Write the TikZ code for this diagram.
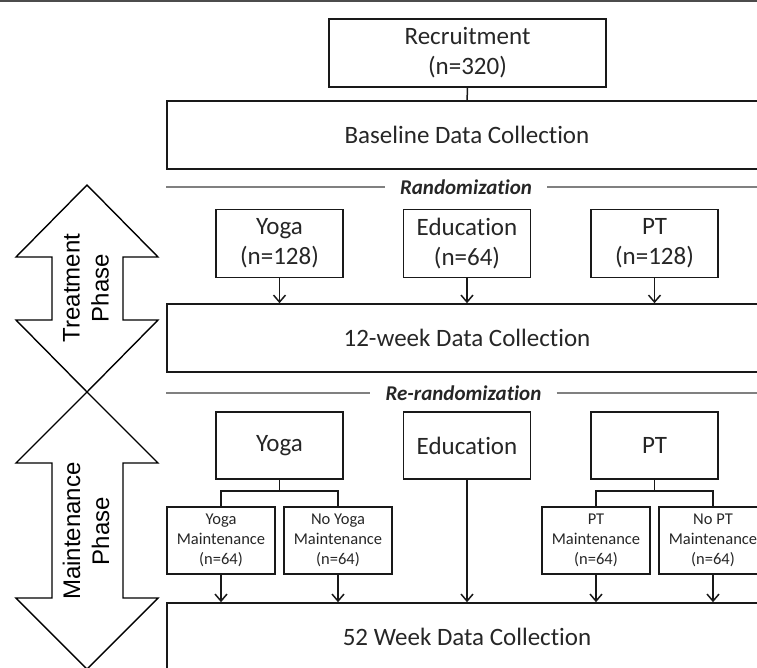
\documentclass[tikz,border=0pt]{standalone}
\usepackage{fontspec}
\setmainfont{Carlito}[Ligatures=NoCommon]
\newfontfamily\phasefont{Liberation Sans}
\usetikzlibrary{arrows.meta}

\begin{document}
\begin{tikzpicture}[x=1pt,y=-1pt,>={Straight Barb[length=7pt,width=12pt]},
        box/.style={draw=black!90,line width=1.6pt,align=center,inner sep=0pt,text=black!85,font=\fontsize{25}{30}\selectfont},
        wide/.style={box,minimum width=600pt,minimum height=68pt},
        arm/.style={box,minimum width=127pt,minimum height=68pt},
        sub/.style={box,minimum width=108pt,minimum height=67pt,font=\fontsize{16.5}{20}\selectfont},
        link/.style={line width=1.5pt,draw=black!90},
        rule/.style={draw=black!50,line width=1.6pt},
        randtext/.style={inner xsep=15pt,text=black!85,font=\fontsize{21}{25}\selectfont\bfseries\itshape},
        phase/.style={draw,line width=1.4pt},
        phasetext/.style={rotate=90,align=center,font=\phasefont\fontsize{24}{29}\selectfont}]
        \useasboundingbox (0,0) rectangle (757,667);
        \draw[line width=1.5pt,black!70] (0,1) -- (757,1);
        % phase arrows
        \draw[phase] (87,185) -- (158,257) -- (123,257) -- (123,320) -- (158,320) -- (87,392)
                -- (16,320) -- (52,320) -- (52,257) -- (16,257) -- cycle;
        \draw[phase] (87,392) -- (158,463) -- (123,463) -- (123,598) -- (158,598) -- (87,669)
                -- (16,598) -- (52,598) -- (52,463) -- (16,463) -- cycle;
        \node[phasetext](treat) at (86,288) {Treatment\\Phase};
        \node[phasetext](maint) at (86,531) {Maintenance\\Phase};
        % boxes
        \node[box,minimum width=277pt,minimum height=68pt](recruit) at (467.5,53) {Recruitment\\(n=320)};
        \node[wide](base) at (467,135) {Baseline Data Collection};
        \node[randtext](rand) at (466,187) {Randomization};
        \node[arm](yoga) at (279.5,243.5) {Yoga\\(n=128)};
        \node[arm](edu) at (467,243.5) {Education\\(n=64)};
        \node[arm](pt) at (654.5,243.5) {PT\\(n=128)};
        \node[wide](wk12) at (467,338) {12-week Data Collection};
        \node[randtext](rerand) at (463.5,393) {Re-randomization};
        \node[arm,minimum height=67pt](yoga2) at (279.5,445.5) {Yoga};
        \node[arm,minimum height=67pt](edu2) at (467,445.5) {Education};
        \node[arm,minimum height=67pt](pt2) at (654.5,445.5) {PT};
        \node[sub](yogam) at (221,540.5) {Yoga\\Maintenance\\(n=64)};
        \node[sub](noyogam) at (338,540.5) {No Yoga\\Maintenance\\(n=64)};
        \node[sub](ptm) at (596,540.5) {PT\\Maintenance\\(n=64)};
        \node[sub](noptm) at (713,540.5) {No PT\\Maintenance\\(n=64)};
        \node[wide](wk52) at (467,637) {52 Week Data Collection};
        % separators
        \draw[rule] (base.west |- rand) -- (rand.west);
        \draw[rule] (rand.east) -- (rand.east -| base.east);
        \draw[rule] (base.west |- rerand) -- (rerand.west);
        \draw[rule] (rerand.east) -- (rerand.east -| base.east);
        % connectors
        \draw[link] (recruit) -- (base);
        \path[->,link]	(yoga)	edge (yoga |- wk12.north)
        			(edu)	edge (edu |- wk12.north)
        			(pt)	edge (pt |- wk12.north);
        \draw[link] (yoga2.south) -- ++(0,11) -| (yogam.north);
        \draw[link] (yoga2.south) -- ++(0,11) -| (noyogam.north);
        \draw[link] (pt2.south) -- ++(0,11) -| (ptm.north);
        \draw[link] (pt2.south) -- ++(0,11) -| (noptm.north);
        \path[->,link]	(yogam)	edge (yogam |- wk52.north)
        			(noyogam)	edge (noyogam |- wk52.north)
        			(edu2)	edge (edu2 |- wk52.north)
        			(ptm)	edge (ptm |- wk52.north)
        			(noptm)	edge (noptm |- wk52.north);
\end{tikzpicture}
\end{document}
